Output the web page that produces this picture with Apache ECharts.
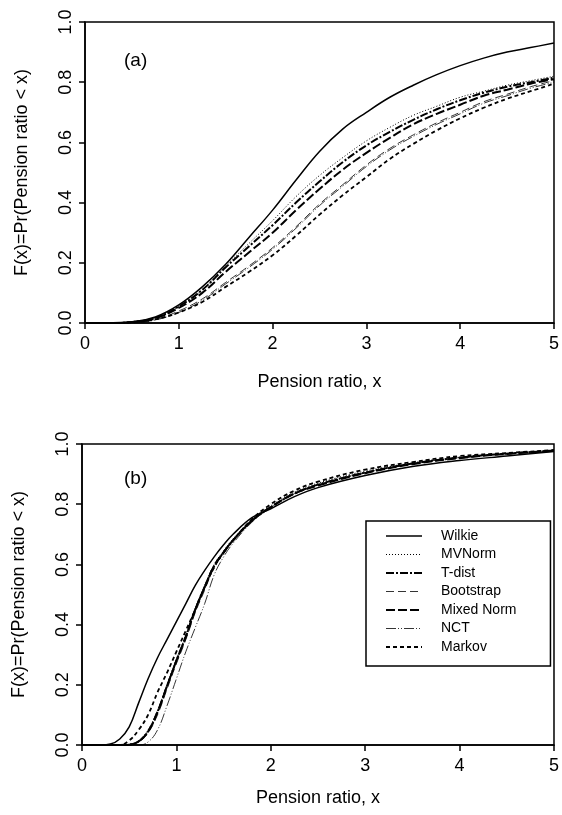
<!DOCTYPE html>
<html><head><meta charset="utf-8">
<script src="https://cdn.jsdelivr.net/npm/echarts@6/dist/echarts.min.js"></script>
<style>html,body{margin:0;padding:0;background:#fff}#c{width:562px;height:815px}</style>
</head><body><div id="c"></div>
<script>
// Panel (a) data
const xA = [0,0.25,0.5,0.75,1,1.25,1.5,1.75,2,2.25,2.5,2.75,3,3.25,3.5,3.75,4,4.25,4.5,4.75,5];
const wilkieA    = [0,0,0.003,0.02,0.06,0.12,0.195,0.285,0.375,0.475,0.57,0.645,0.70,0.75,0.79,0.825,0.855,0.88,0.90,0.915,0.93];
const mvnormA    = [0,0,0.003,0.018,0.055,0.11,0.19,0.265,0.34,0.42,0.49,0.55,0.605,0.65,0.69,0.72,0.75,0.77,0.79,0.805,0.82];
const tdistA     = [0,0,0.003,0.017,0.055,0.11,0.185,0.255,0.325,0.40,0.47,0.535,0.59,0.635,0.675,0.71,0.74,0.765,0.785,0.80,0.815];
const bootstrapA = [0,0,0.002,0.012,0.04,0.08,0.135,0.19,0.25,0.32,0.395,0.46,0.525,0.58,0.625,0.665,0.70,0.735,0.76,0.785,0.805];
const mixedA     = [0,0,0.003,0.016,0.05,0.10,0.17,0.235,0.30,0.375,0.445,0.51,0.565,0.615,0.66,0.695,0.725,0.755,0.775,0.795,0.81];
const nctA       = [0,0,0.001,0.01,0.035,0.075,0.13,0.185,0.245,0.315,0.39,0.455,0.52,0.575,0.62,0.66,0.695,0.73,0.755,0.78,0.80];
const markovA    = [0,0,0.002,0.012,0.035,0.07,0.12,0.17,0.225,0.29,0.36,0.425,0.485,0.545,0.595,0.64,0.68,0.715,0.745,0.77,0.795];

// Panel (b) data
const xB = [0,0.2,0.3,0.4,0.5,0.6,0.7,0.8,0.9,1.0,1.1,1.2,1.3,1.4,1.5,1.6,1.8,2.0,2.25,2.5,3,3.5,4,4.5,5];
const wilkieB    = [0,0,0.003,0.02,0.06,0.14,0.22,0.29,0.35,0.41,0.47,0.53,0.58,0.625,0.665,0.70,0.755,0.785,0.825,0.855,0.895,0.925,0.945,0.96,0.975];
const mvnormB    = [0,0,0,0,0.002,0.015,0.05,0.115,0.2,0.285,0.365,0.455,0.53,0.60,0.645,0.685,0.75,0.795,0.84,0.87,0.91,0.937,0.955,0.968,0.978];
const tdistB     = [0,0,0,0,0.001,0.012,0.045,0.11,0.195,0.28,0.36,0.45,0.525,0.595,0.64,0.68,0.745,0.79,0.835,0.865,0.905,0.935,0.955,0.968,0.978];
const bootstrapB = [0,0,0,0,0.001,0.01,0.04,0.10,0.185,0.27,0.35,0.44,0.515,0.59,0.635,0.68,0.745,0.79,0.835,0.865,0.905,0.935,0.955,0.968,0.978];
const mixedB     = [0,0,0,0,0.001,0.012,0.045,0.11,0.195,0.28,0.36,0.45,0.525,0.595,0.64,0.68,0.745,0.79,0.835,0.862,0.903,0.933,0.953,0.967,0.977];
const nctB       = [0,0,0,0,0,0,0.01,0.05,0.13,0.22,0.31,0.39,0.47,0.565,0.625,0.67,0.74,0.79,0.835,0.865,0.905,0.935,0.955,0.968,0.978];
const markovB    = [0,0,0,0,0.015,0.05,0.10,0.175,0.24,0.31,0.38,0.45,0.525,0.59,0.64,0.68,0.75,0.80,0.845,0.875,0.915,0.94,0.96,0.97,0.98];

const seriesNames = ['Wilkie','MVNorm','T-dist','Bootstrap','Mixed Norm','NCT','Markov'];
const xTicks = [0,1,2,3,4,5];
const yTicks = [0,0.2,0.4,0.6,0.8,1.0];
const xTitle = 'Pension ratio, x';
const yTitle = 'F(x)=Pr(Pension ratio < x)';

const styles = {
  'Wilkie':     {width:1.5, type:'solid'},
  'MVNorm':     {width:1,   type:[1,2]},
  'T-dist':     {width:2,   type:[8,2,2,2]},
  'Bootstrap':  {width:0.8, type:[8,4]},
  'Mixed Norm': {width:2,   type:[9,3]},
  'NCT':        {width:0.8, type:[10,2,1,2,1,2]},
  'Markov':     {width:1.8, type:[4,3]}
};

const dataA = [wilkieA,mvnormA,tdistA,bootstrapA,mixedA,nctA,markovA];
const dataB = [wilkieB,mvnormB,tdistB,bootstrapB,mixedB,nctB,markovB];

const FONT = 'Liberation Sans';
function xAxis(gi, nameGap){
  return {type:'value', gridIndex:gi, min:0, max:5, interval:1,
    name:xTitle, nameLocation:'middle', nameGap:nameGap,
    nameTextStyle:{fontFamily:FONT, fontSize:18, color:'#000'},
    axisLine:{show:true, onZero:false, lineStyle:{color:'#000', width:1.5}},
    axisTick:{show:true, inside:false, length:6, lineStyle:{color:'#000', width:1.5}},
    axisLabel:{fontFamily:FONT, fontSize:18, color:'#000', margin:12},
    splitLine:{show:false}};
}
function yAxis(gi){
  return {type:'value', gridIndex:gi, min:0, max:1, interval:0.2,
    name:yTitle, nameLocation:'middle', nameGap:54, nameRotate:90,
    nameTextStyle:{fontFamily:FONT, fontSize:18, color:'#000'},
    axisLine:{show:true, onZero:false, lineStyle:{color:'#000', width:1.5}},
    axisTick:{show:true, inside:false, length:6, lineStyle:{color:'#000', width:1.5}},
    axisLabel:{fontFamily:FONT, fontSize:18, color:'#000', margin:10, rotate:90,
      formatter:v=>v.toFixed(1)},
    splitLine:{show:false}};
}

const series = [];
[[dataA,xA,0],[dataB,xB,1]].forEach(([ds,xs,gi])=>{
  ds.forEach((arr,i)=>{
    const nm = seriesNames[i];
    series.push({type:'line', name:nm, xAxisIndex:gi, yAxisIndex:gi,
      data: xs.map((x,k)=>[x,arr[k]]), symbol:'none', showSymbol:false, smooth:0.4,
      lineStyle:{color:'#000', width:styles[nm].width, type:styles[nm].type},
      itemStyle:{color:'#000'}, z: 10-i});
  });
});

const chart = echarts.init(document.getElementById('c'), null, {renderer:'canvas'});
chart.setOption({
  animation:false,
  backgroundColor:'#fff',
  grid:[
    {left:85, top:22, width:476, height:301, show:true, borderColor:'#000', borderWidth:1.5, containLabel:false},
    {left:82, top:444, width:476, height:301, show:true, borderColor:'#000', borderWidth:1.5, containLabel:false}
  ],
  xAxis:[xAxis(0,50), xAxis(1,44)],
  yAxis:[yAxis(0), yAxis(1)],
  legend:{
    data:seriesNames.map(nm=>({name:nm, lineStyle:{color:'#000', width:styles[nm].width, type:styles[nm].type}})),
    orient:'vertical', left:366, top:521,
    padding:[8,34,12,19], itemGap:4.5, itemWidth:36, itemHeight:14,
    borderColor:'#000', borderWidth:1.5, backgroundColor:'#fff',
    itemStyle:{opacity:0},
    textStyle:{fontFamily:FONT, fontSize:14, color:'#000', padding:[0,0,0,14]},
    selectedMode:false
  },
  graphic:[
    {type:'text', left:124, top:51, style:{text:'(a)', font:'19px "Liberation Sans"', fill:'#000'}},
    {type:'text', left:124, top:469, style:{text:'(b)', font:'19px "Liberation Sans"', fill:'#000'}}
  ],
  series: series
});
</script></body></html>
